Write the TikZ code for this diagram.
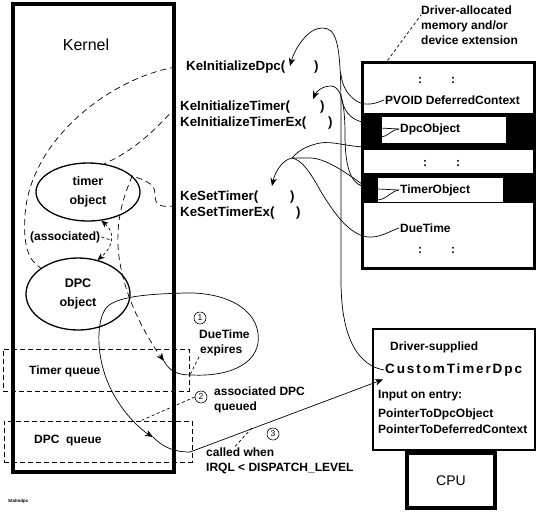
\documentclass[tikz,border=0pt]{standalone}
\usepackage{fontspec}
\setmainfont{Liberation Sans}
\usetikzlibrary{shapes.geometric,arrows.meta}
\begin{document}
\begin{tikzpicture}[x=1pt,y=-1pt,
  lbl/.style={font=\bfseries\fontsize{12}{14}\selectfont, inner sep=1pt, anchor=west},
  fn/.style={font=\bfseries\fontsize{13.3}{15}\selectfont, inner sep=1pt, anchor=west},
  obj/.style={ellipse, draw, line width=1.3pt, inner sep=0pt, align=center,
              font=\bfseries\fontsize{12.5}{19}\selectfont},
  wire/.style={line width=0.7pt},
  dwire/.style={line width=0.7pt, dash pattern=on 6pt off 4pt},
  fdwire/.style={line width=0.7pt, dash pattern=on 3pt off 2.5pt},
  tip/.style={-{Stealth[length=8pt,width=6.5pt,inset=2.5pt]}},
  qbox/.style={draw, line width=0.8pt, dash pattern=on 5pt off 3pt, inner sep=0pt},
  stepmark/.style={draw, circle, line width=0.6pt, minimum size=12pt, inner sep=0pt,
                   font=\fontsize{8.5}{9}\selectfont},
  field/.style={fill=white, inner sep=0pt},
  colons/.style={font=\bfseries\fontsize{12}{14}\selectfont, inner sep=0pt}
  ]
\useasboundingbox (0,0) rectangle (537,512);

% ---------- kernel column ----------
\node (kernel) [draw, line width=4pt, minimum width=161.5pt, minimum height=468pt, inner sep=0pt] at (93.25,238) {};
\node (kernlbl) [font=\fontsize{16}{18}\selectfont] at (86,45) {Kernel};

\node (timerobj) [obj, minimum width=104pt, minimum height=58pt] at (88,192) {timer\\object};
\node (dpcobj) [obj, minimum width=104pt, minimum height=72pt] at (78,294) {DPC\\object};

\node (tq) [qbox, minimum width=186pt, minimum height=42pt] at (96,370) {};
\node (dq) [qbox, minimum width=188pt, minimum height=41pt] at (98,441.5) {};

% ---------- driver-allocated storage ----------
\node (mem) [draw, line width=3pt, fill=white, minimum width=172pt, minimum height=206pt, inner sep=0pt] at (448,165) {};
\fill (362,113) rectangle (534,150);
\fill (362,173) rectangle (534,203);
\node (dpcfield) [field, minimum width=124pt, minimum height=26pt] at (444,130) {};
\node (timerfield) [field, minimum width=125pt, minimum height=24pt] at (440.5,190) {};

% ---------- driver routine and CPU ----------
\node (dsbox) [draw, line width=1.2pt, minimum width=162pt, minimum height=121pt, inner sep=0pt] at (454,389.5) {};
\node (cpu) [draw, line width=4pt, minimum width=88pt, minimum height=55pt, inner sep=0pt,
             font=\fontsize{14}{16}\selectfont] at (451,480.5) {CPU};

% ---------- text ----------
\node (kid)   [fn] at (185,67)  {KeInitializeDpc(};
\node (kidc)  [fn] at (313,67)  {)};
\node (kit)   [fn] at (179,107) {KeInitializeTimer(};
\node (kitc)  [fn] at (319,107) {)};
\node (kitx)  [fn] at (179,123) {KeInitializeTimerEx(};
\node (kitxc) [fn] at (327,123) {)};
\node (kst)   [fn] at (179,197) {KeSetTimer(};
\node (kstc)  [fn] at (289,197) {)};
\node (kstx)  [fn] at (179,213) {KeSetTimerEx(};
\node (kstxc) [fn] at (295,213) {)};

\node (assoc) [lbl] at (29,237) {(associated)};
\node (tqlbl) [lbl] at (28,371) {Timer queue};
\node (dqlbl) [lbl] at (33,441) {DPC\ \ queue};

\node (dalloc) [lbl, anchor=north west, align=left, font=\bfseries\fontsize{12}{15}\selectfont] at (420,5)
      {Driver-allocated\\memory and/or\\device extension};
\node (dots1)   [colons] at (436.5,80)  {:\hspace{29pt}:};
\node (deftxt)  [lbl] at (384,100) {PVOID DeferredContext};
\node (dpctxt)  [lbl] at (399,129) {DpcObject};
\node (dots2)   [colons] at (441.5,163) {:\hspace{29pt}:};
\node (timertxt)[lbl] at (399,190) {TimerObject};
\node (duetxt)  [lbl] at (399,228) {DueTime};
\node (dots3)   [colons] at (436.5,250) {:\hspace{29pt}:};

\node (dsup)  [lbl] at (389,347) {Driver-supplied};
\node (ctd)   [lbl, font=\bfseries\fontsize{13.5}{16}\selectfont\addfontfeature{LetterSpace=14}] at (384,370) {CustomTimerDpc};
\node (input) [lbl] at (377,396) {Input on entry:};
\node (ptd)   [lbl] at (377,414) {PointerToDpcObject};
\node (ptc)   [lbl] at (377,429) {PointerToDeferredContext};

\node (s1)  [stepmark] at (200,318) {1};
\node (s1a) [lbl] at (198,334) {DueTime};
\node (s1b) [lbl] at (199,350) {expires};
\node (s2)  [stepmark] at (201,397) {2};
\node (s2a) [lbl] at (213,391) {associated DPC};
\node (s2b) [lbl] at (213,407) {queued};
\node (s3)  [stepmark] at (273,434) {3};
\node (s3a) [lbl] at (205,452) {called when};
\node (s3b) [lbl] at (205,468) {IRQL < DISPATCH\_LEVEL};

\node (figname) [font=\bfseries\fontsize{4.5}{5}\selectfont, anchor=west, inner sep=0pt] at (8,501) {Stalmdpc};

% ---------- argument slots and junctions ----------
\coordinate (argDpc)   at (290,66);
\coordinate (argTimer) at (313,99);
\coordinate (argSet)   at (272,186);
\coordinate (hub)      at (292,158);
\coordinate (tqarrow)  at (164,361);
\coordinate (dqarrow)  at (153,437);
\coordinate (dqtop)    at (140,421);
\coordinate (callpt)   at (252,428);

% ---------- KeInitializeDpc arguments ----------
\draw[wire, tip] (ctd.west) .. controls (362,366) and (341,345) .. (341,280)
      -- (341,110) .. controls (341,40) and (336,28) .. (322,28)
      .. controls (308,28) and (295,48) .. (argDpc);
\draw[wire] (deftxt.west) .. controls (370,106) and (362,105) .. (355,100)
      .. controls (347,94) and (342,86) .. (340.6,72);
\draw[wire] (dpctxt.west) -- (380,128) -- (362,122)
      .. controls (350,119) and (343,110) .. (341,96);

% ---------- KeInitializeTimer argument ----------
\draw[wire, tip] (timertxt.west) -- (378,189) -- (362,186)
      .. controls (350,182) and (345,165) .. (345,135)
      .. controls (345,100) and (340,86) .. (331,86)
      .. controls (322,86) and (316,92) .. (argTimer);

% ---------- KeSetTimer arguments ----------
\draw[wire, tip] (hub) .. controls (282,160) and (275,172) .. (argSet);
\draw[wire] (dpctxt.west) .. controls (392,129) and (388,137) .. (380,137)
      -- (364,147) .. controls (345,146) and (332,141) .. (320,143)
      .. controls (305,146) and (297,152) .. (hub);
\draw[wire] (timertxt.west) .. controls (391,191) and (386,200) .. (377,200)
      -- (362,184) .. controls (345,172) and (325,158) .. (310,158)
      .. controls (300,158) and (295,158) .. (hub);
\draw[wire] (duetxt.west) .. controls (390,231) and (380,238) .. (368,237)
      .. controls (350,235) and (335,215) .. (320,190)
      .. controls (310,172) and (302,160) .. (hub);

% ---------- kernel calls acting on the objects ----------
\draw[dwire] (kernel.east |- kid.west) .. controls (110,78) and (30,140) .. (25,215)
      .. controls (23,245) and (28,260) .. (dpcobj.north west);
\draw[dwire] (kernel.east |- kit.west) .. controls (155,130) and (135,150) .. (timerobj.60);
\draw[dwire] (kernel.east |- kstx.north) .. controls (160,208) and (155,205) .. (155,195)
      .. controls (155,185) and (150,182) .. (timerobj.20);
\draw[fdwire, {Stealth[length=7pt,width=6pt,inset=2pt]}-{Stealth[length=7pt,width=6pt,inset=2pt]}]
      (timerobj.-65) .. controls (115,232) and (114,246) .. (dpcobj.60);
\draw[fdwire] (assoc.east) -- (111,240);

% ---------- timer expiry and DPC queuing ----------
\draw[dwire, tip] (timerobj.20) .. controls (122,200) and (117,220) .. (118,245)
      .. controls (120,290) and (145,335) .. (tqarrow);
\draw[wire, tip] (tqarrow) .. controls (170,372) and (178,375) .. (192,375)
      .. controls (235,377) and (262,360) .. (258,333)
      .. controls (254,305) and (220,292) .. (185,293)
      .. controls (150,294) and (120,296) .. (108,306)
      .. controls (98,315) and (95,345) .. (105,375)
      .. controls (115,405) and (138,428) .. (dqarrow);
\draw[wire, tip] (dqarrow) .. controls (162,446) and (172,452) .. (190,452)
      -- ([shift={(-1,2)}]ctd.south west);

% ---------- leaders ----------
\draw[fdwire] (s1b.south west) -- ([shift={(0,6)}]tq.east);
\draw[fdwire] (s2.west) -- (dqtop);
\draw[fdwire] ([shift={(30,0)}]s3a.north west) -- (callpt);
\draw[fdwire] ([shift={(27,0)}]mem.north west) -- ([shift={(1,10)}]dalloc.north west);

\end{tikzpicture}
\end{document}
